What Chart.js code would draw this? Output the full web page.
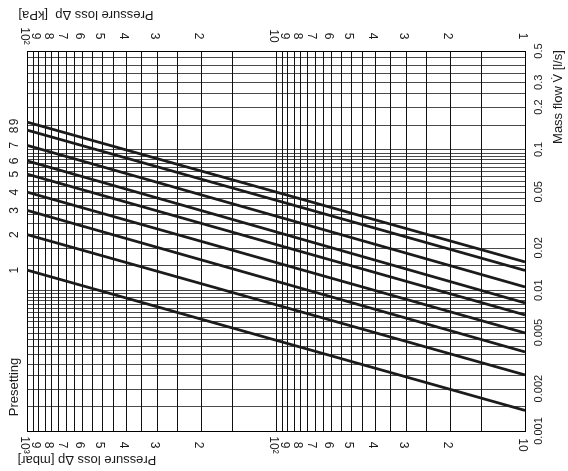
<!DOCTYPE html>
<html>
<head>
<meta charset="utf-8">
<script src="https://cdn.jsdelivr.net/npm/chart.js@4.4.0/dist/chart.umd.min.js"></script>
<style>
  html, body { margin: 0; padding: 0; background: #fff; }
</style>
</head>
<body>
<canvas id="diagram" width="568" height="471"></canvas>
<script>
// presetting curves, read at both ends of the pressure axis
const presettings = ['1', '2', '3', '4', '5', '6', '7', '8', '9'];
const flowAt1000mbar = [0.0139, 0.0248, 0.0369, 0.0498, 0.0668, 0.0830, 0.1070, 0.1374, 0.1566];
const flowAt10mbar = [0.00140, 0.00250, 0.00364, 0.00497, 0.00667, 0.00811, 0.01054, 0.01380, 0.01586];

// grid: 1, 1.5, 2 ... 9.5 in every decade
const gridSteps = [1, 1.5, 2, 2.5, 3, 3.5, 4, 4.5, 5, 5.5, 6, 6.5, 7, 7.5, 8, 8.5, 9, 9.5];
const mbarDecades = [10, 100, 1000];
const flowDecades = [0.001, 0.01, 0.1];

const mbarTicks = [1000, 900, 800, 700, 600, 500, 400, 300, 200, 100, 90, 80, 70, 60, 50, 40, 30, 20, 10];
const mbarTickLabels = ['10³', '9', '8', '7', '6', '5', '4', '3', '2', '10²', '9', '8', '7', '6', '5', '4', '3', '2', '10'];
const kpaTicks = [100, 90, 80, 70, 60, 50, 40, 30, 20, 10, 9, 8, 7, 6, 5, 4, 3, 2, 1];
const kpaTickLabels = ['10²', '9', '8', '7', '6', '5', '4', '3', '2', '10', '9', '8', '7', '6', '5', '4', '3', '2', '1'];
const flowTicks = [0.001, 0.002, 0.005, 0.01, 0.02, 0.05, 0.1, 0.2, 0.3, 0.5];
const flowTickLabels = ['0.001', '0.002', '0.005', '0.01', '0.02', '0.05', '0.1', '0.2', '0.3', '0.5'];

const FONT = '"Liberation Sans", Arial, sans-serif';
const CW = Math.PI / 2, CCW = -Math.PI / 2, FLIP = Math.PI;

function rotText(ctx, txt, x, y, angle, size) {
    ctx.save();
    ctx.translate(x, y);
    ctx.rotate(angle);
    ctx.font = size + 'px ' + FONT;
    ctx.fillStyle = '#1a1a1a';
    ctx.textAlign = 'center';
    ctx.textBaseline = 'middle';
    ctx.fillText(txt, 0, 0);
    ctx.restore();
}

const paperPlugin = {
    id: 'paper',
    beforeDatasetsDraw(chart) {
        const { ctx, chartArea: a, scales } = chart;
        const x = scales.x, y = scales.y;
        ctx.save();
        ctx.lineWidth = 1;
        // horizontal lines (mass flow)
        ctx.strokeStyle = '#4a4a4a';
        flowDecades.forEach(d => gridSteps.forEach(s => {
            const v = d * s;
            if (v > 0.5 + 1e-9) return;
            const py = Math.round(y.getPixelForValue(v)) + 0.5;
            ctx.beginPath(); ctx.moveTo(a.left, py); ctx.lineTo(a.right, py); ctx.stroke();
        }));
        // vertical lines (pressure loss)
        ctx.strokeStyle = '#111';
        mbarDecades.forEach(d => gridSteps.forEach(s => {
            const v = d * s;
            if (v > 1000 + 1e-9) return;
            const px = Math.round(x.getPixelForValue(v)) + 0.5;
            ctx.beginPath(); ctx.moveTo(px, a.top); ctx.lineTo(px, a.bottom); ctx.stroke();
        }));
        ctx.strokeStyle = '#000';
        ctx.strokeRect(Math.round(a.left) + 0.5, Math.round(a.top) + 0.5, Math.round(a.right - a.left), Math.round(a.bottom - a.top));
        ctx.restore();
    },
    afterDraw(chart) {
        const { ctx, chartArea: a, scales } = chart;
        const x = scales.x, kpa = scales.kpa, y = scales.y;
        mbarTicks.forEach((v, i) => rotText(ctx, mbarTickLabels[i], x.getPixelForValue(v) - 3, a.bottom + 14, CW, 12));
        kpaTicks.forEach((v, i) => rotText(ctx, kpaTickLabels[i], kpa.getPixelForValue(v) - 3, a.top - 15, CW, 12));
        flowTicks.forEach((v, i) => rotText(ctx, flowTickLabels[i], a.right + 14, y.getPixelForValue(v), CCW, 11));
        presettings.forEach((p, i) => rotText(ctx, p, a.left - 12, y.getPixelForValue(flowAt1000mbar[i]), CCW, 12));
        rotText(ctx, 'Presetting', a.left - 13, 387, CCW, 13);
        rotText(ctx, 'Pressure loss \u0394p  [kPa]', 86, 15, FLIP, 13);
        rotText(ctx, 'Pressure loss \u0394p [mbar]', 87, 460, FLIP, 13);
        rotText(ctx, 'Mass flow V\u0307 [l/s]', 558, 97, CCW, 13);
    }
};

new Chart(document.getElementById('diagram'), {
    type: 'line',
    data: {
        datasets: presettings.map((p, i) => ({
            label: 'Presetting ' + p,
            data: [{ x: 1000, y: flowAt1000mbar[i] }, { x: 10, y: flowAt10mbar[i] }],
            borderColor: '#1b1b1b',
            borderWidth: 2.8,
            pointRadius: 0,
            tension: 0
        }))
    },
    options: {
        responsive: false,
        animation: false,
        devicePixelRatio: 1,
        layout: { padding: { left: 27, right: 43, top: 51, bottom: 40 } },
        plugins: { legend: { display: false }, tooltip: { enabled: false } },
        scales: {
            x: { type: 'logarithmic', min: 10, max: 1000, reverse: true, display: false },
            kpa: { type: 'logarithmic', axis: 'x', min: 1, max: 100, reverse: true, display: false },
            y: { type: 'logarithmic', min: 0.001, max: 0.5, display: false }
        }
    },
    plugins: [paperPlugin]
});
</script>
</body>
</html>
